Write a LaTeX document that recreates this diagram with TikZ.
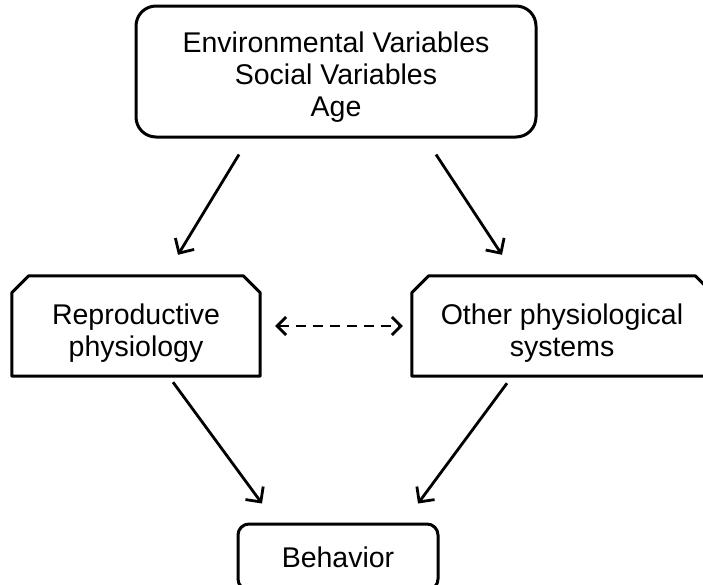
\documentclass[tikz,border=0pt]{standalone}
\usepackage{fontspec}
\setmainfont{Liberation Sans}
\usepackage{tikz}
\usetikzlibrary{arrows.meta, positioning, calc}

\begin{document}
\begin{tikzpicture}[x=1pt, y=1pt,
    txt/.style={font=\fontsize{28.5}{32}\selectfont, align=center, inner sep=0pt},
    boxline/.style={line width=3pt, line join=round},
    topbox/.style={txt, draw, boxline, rounded corners=20pt},
    midbox/.style={txt},
    endbox/.style={txt, draw, boxline, rounded corners=11pt},
    arr/.style={line width=2.8pt, -{Straight Barb[length=11pt, width=22pt, line width=2.8pt]}}]
  \useasboundingbox (0,0) rectangle (703,-584);

  \node[topbox, minimum width=400pt, minimum height=131pt] (env) at (336,-71.5)
    {\rule{0pt}{31pt}Environmental Variables\\ Social Variables\\ Age};
  \node[midbox, minimum width=248pt, minimum height=100pt] (repro) at (136,-326)
    {\rule{0pt}{35pt}Reproductive\\ physiology};
  \node[midbox, minimum width=300pt, minimum height=100pt] (other) at (562,-326)
    {\rule{0pt}{35pt}Other physiological\\ systems};
  \node[endbox, minimum width=200pt, minimum height=66pt] (behav) at (338,-557)
    {Behavior};

  % cut top corners
  \foreach \b in {repro, other}
    \draw[boxline] ([yshift=-17pt]\b.north west) -- ([xshift=17pt]\b.north west)
      -- ([xshift=-17pt]\b.north east) -- ([yshift=-17pt]\b.north east)
      -- (\b.south east) -- (\b.south west) -- cycle;

  \draw[arr] ([xshift=-97pt, yshift=-16pt]env.south) -- ([xshift=42pt, yshift=21pt]repro.north);
  \draw[arr] ([xshift=100pt, yshift=-16pt]env.south) -- ([xshift=-60pt, yshift=21pt]other.north);
  \draw[arr] ([xshift=37pt, yshift=-6pt]repro.south) -- ([xshift=-76pt, yshift=19pt]behav.north);
  \draw[arr] ([xshift=-55pt, yshift=-7pt]other.south) -- ([xshift=80pt, yshift=19pt]behav.north);
  % two-way link between the systems
  \draw[line width=2.8pt, dash pattern=on 10pt off 7pt,
    {Straight Barb[length=9pt, width=18pt, line width=2.8pt]}-{Straight Barb[length=9pt, width=18pt, line width=2.8pt]},
    shorten <=15pt, shorten >=9pt] (repro.east) -- (other.west);
\end{tikzpicture}
\end{document}
